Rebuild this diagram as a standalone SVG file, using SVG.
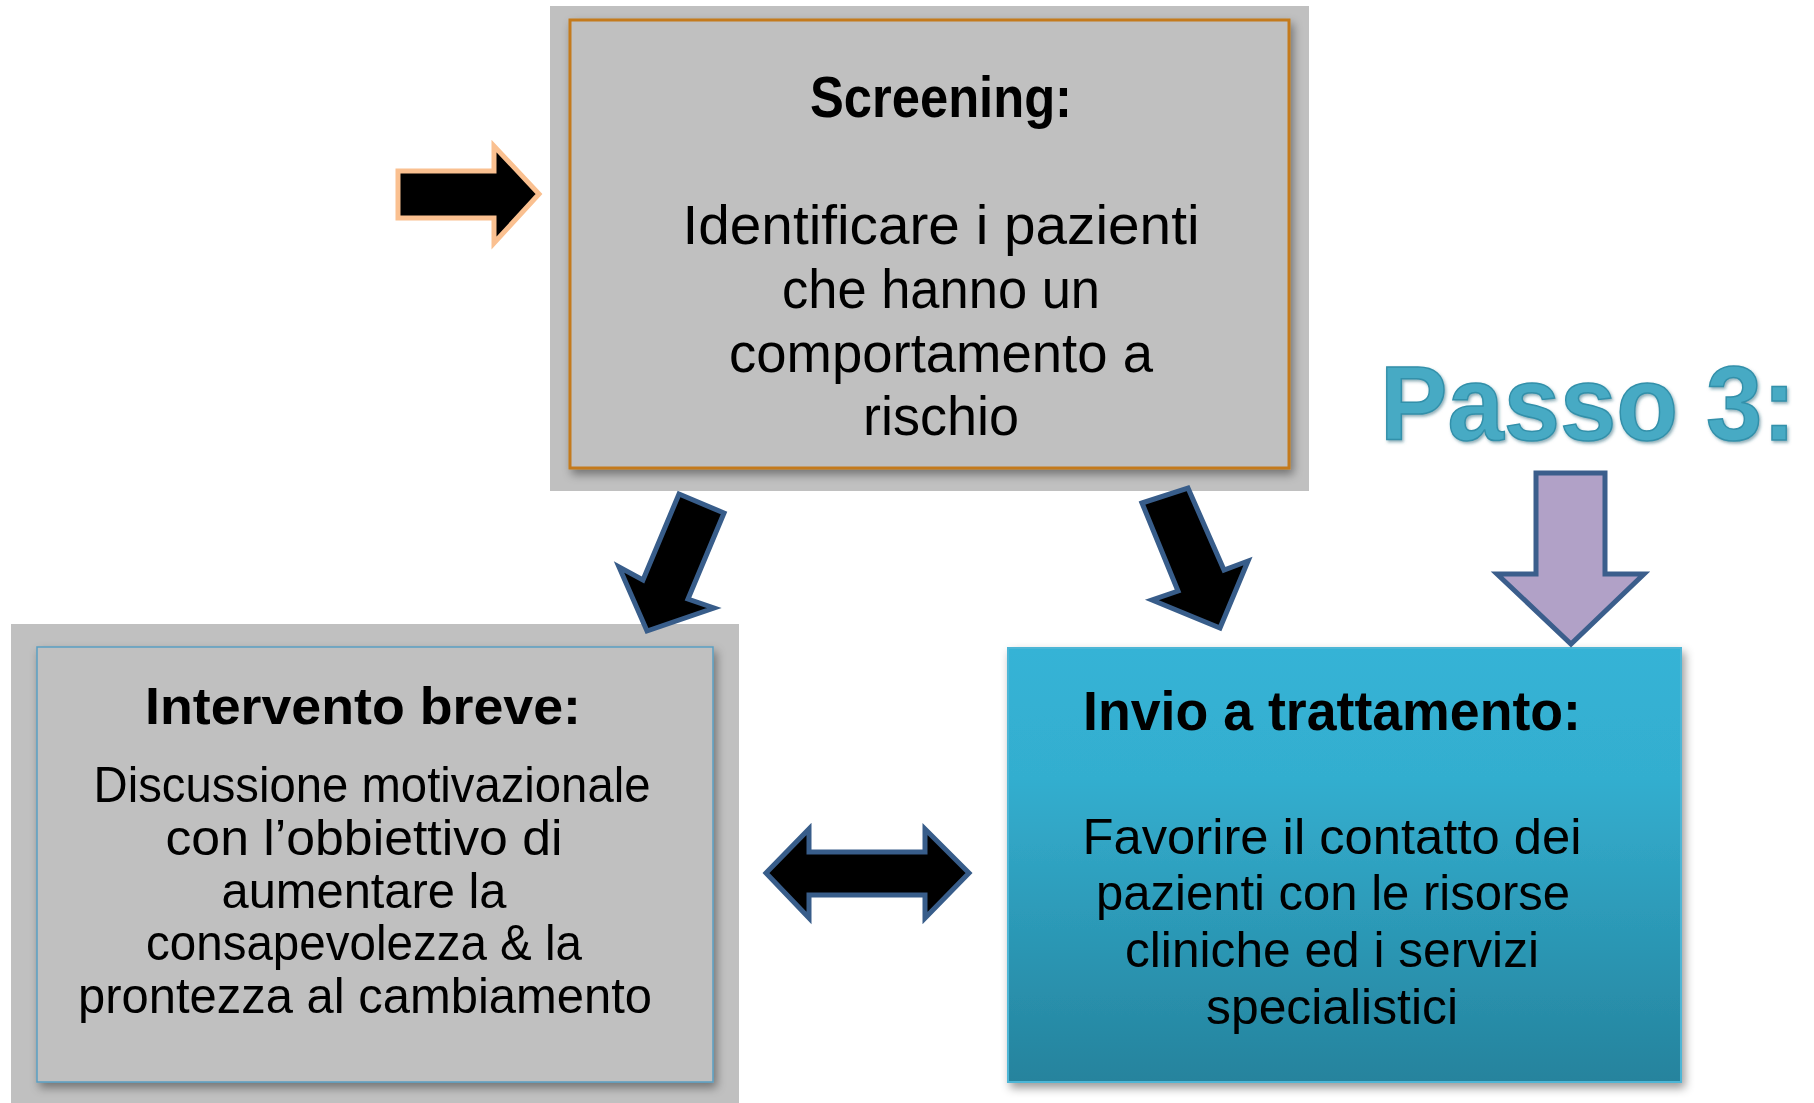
<svg xmlns="http://www.w3.org/2000/svg" width="1814" height="1103" viewBox="0 0 1814 1103">
<defs>
<style>
.t{font-family:"Liberation Sans",Arial,sans-serif;fill:#000;text-anchor:middle}
.b{font-weight:bold}
.bg{fill:#C0C0C0}
.box{fill:#C0C0C0}
.blk{fill:#000;stroke:#385D8A;stroke-width:5;stroke-linejoin:miter}
</style>
<linearGradient id="blue" x1="0" y1="0" x2="0" y2="1">
<stop offset="0" stop-color="#35B3D6"/>
<stop offset="0.3" stop-color="#33AECF"/>
<stop offset="1" stop-color="#25839D"/>
</linearGradient>
<filter id="sh" x="-10%" y="-10%" width="125%" height="125%">
<feDropShadow dx="3" dy="5" stdDeviation="5" flood-color="#000" flood-opacity="0.4"/>
</filter>
<filter id="ts" x="-5%" y="-5%" width="110%" height="120%">
<feDropShadow dx="1.5" dy="2" stdDeviation="1.5" flood-color="#1E5F73" flood-opacity="0.5"/>
</filter>
</defs>

<g id="screening">
<rect class="bg" x="550" y="6" width="759" height="485"/>
<rect class="box" x="570" y="20" width="719" height="448" stroke="#C47A1C" stroke-width="3" filter="url(#sh)"/>
<text class="t b" x="941" y="117" font-size="57" textLength="262" lengthAdjust="spacingAndGlyphs">Screening:</text>
<text class="t" x="941" y="244" font-size="56" textLength="517" lengthAdjust="spacingAndGlyphs">Identificare i pazienti</text>
<text class="t" x="941" y="308" font-size="56" textLength="318" lengthAdjust="spacingAndGlyphs">che hanno un</text>
<text class="t" x="941" y="372" font-size="56" textLength="424" lengthAdjust="spacingAndGlyphs">comportamento a</text>
<text class="t" x="941" y="435" font-size="56" textLength="156" lengthAdjust="spacingAndGlyphs">rischio</text>
</g>

<g id="intervento">
<rect class="bg" x="11" y="624" width="728" height="479"/>
<rect class="box" x="37" y="647" width="676" height="435" stroke="#5A9EC2" stroke-width="1.5" filter="url(#sh)"/>
<text class="t b" x="363" y="724" font-size="52" textLength="436" lengthAdjust="spacingAndGlyphs">Intervento breve:</text>
<text class="t" x="372" y="802" font-size="50" textLength="557" lengthAdjust="spacingAndGlyphs">Discussione motivazionale</text>
<text class="t" x="364" y="855" font-size="50" textLength="397" lengthAdjust="spacingAndGlyphs">con l’obbiettivo di</text>
<text class="t" x="364" y="908" font-size="50" textLength="285" lengthAdjust="spacingAndGlyphs">aumentare la</text>
<text class="t" x="364" y="960" font-size="50" textLength="436" lengthAdjust="spacingAndGlyphs">consapevolezza &amp; la</text>
<text class="t" x="365" y="1013" font-size="50" textLength="574" lengthAdjust="spacingAndGlyphs">prontezza al cambiamento</text>
</g>

<g id="invio">
<rect x="1008" y="648" width="673" height="434" fill="url(#blue)" stroke="#4DB6D6" stroke-width="2" filter="url(#sh)"/>
<text class="t b" x="1332" y="730" font-size="55" textLength="498" lengthAdjust="spacingAndGlyphs">Invio a trattamento:</text>
<text class="t" x="1332" y="854" font-size="50" textLength="499" lengthAdjust="spacingAndGlyphs">Favorire il contatto dei</text>
<text class="t" x="1333" y="910" font-size="50" textLength="474" lengthAdjust="spacingAndGlyphs">pazienti con le risorse</text>
<text class="t" x="1332" y="967" font-size="50" textLength="414" lengthAdjust="spacingAndGlyphs">cliniche ed i servizi</text>
<text class="t" x="1332" y="1024" font-size="50" textLength="252" lengthAdjust="spacingAndGlyphs">specialistici</text>
</g>

<g id="passo3">
<text x="1380" y="440" font-family="Liberation Sans,Arial,sans-serif" font-weight="bold" font-size="106" textLength="416" lengthAdjust="spacingAndGlyphs" fill="#47AAC4" stroke="#3390AA" stroke-width="1.5" filter="url(#ts)">Passo 3:</text>
</g>

<g id="connectors">
<polygon points="398,171 494,171 494,146 539,194 494,243 494,218 398,218" fill="#000" stroke="#FAC090" stroke-width="5"/>
<polygon class="blk" points="679,494 724,513 688,599 714,608 647,631 619,567 643,580"/>
<polygon class="blk" points="1142,503 1188,488 1224,570 1248,561 1220,628 1152,600 1178,591"/>
<polygon class="blk" points="766,873 809,829 809,852 925,852 925,829 969,873 925,918 925,895 809,895 809,918"/>
<polygon points="1536,473 1605,473 1605,574 1644,574 1571,644 1497,574 1536,574" fill="#B1A1C7" stroke="#3B5E8C" stroke-width="5"/>
</g>
</svg>
